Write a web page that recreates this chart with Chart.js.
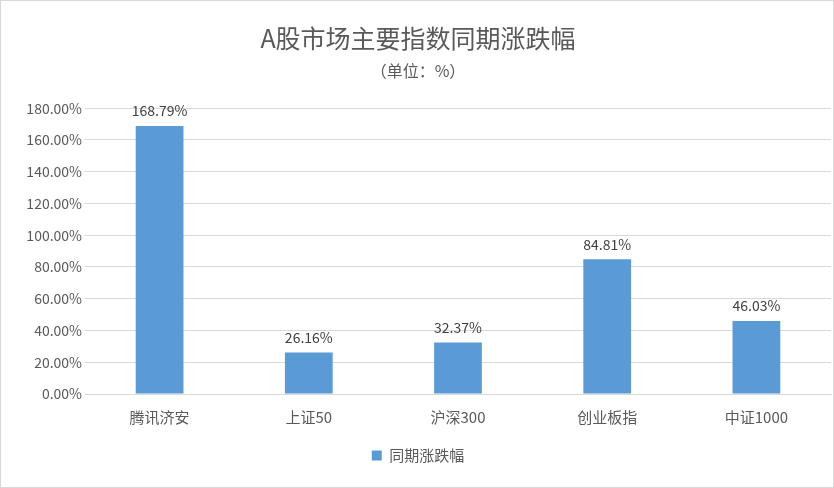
<!DOCTYPE html>
<html><head><meta charset="utf-8">
<script src="https://cdn.jsdelivr.net/npm/chart.js@4"></script>
<style>html,body{margin:0;padding:0;background:#fff}
#w{width:832px;height:486px;border:1px solid #d9d9d9;position:relative}</style>
</head><body><div id="w"><canvas id="c"></canvas></div>
<script>
const categories=["腾讯济安","上证50","沪深300","创业板指","中证1000"];
const values=[168.79,26.16,32.37,84.81,46.03];
const seriesName="同期涨跌幅";
const F="'Noto Sans CJK SC', 'Liberation Sans', sans-serif";
const labelPlugin={id:'lbl',afterDatasetsDraw(ch){const c=ch.ctx;const m=ch.getDatasetMeta(0);
c.save();c.font="14px "+F;c.fillStyle="#404040";c.textAlign="center";c.textBaseline="bottom";
m.data.forEach((b,i)=>c.fillText(values[i].toFixed(2)+"%",b.x,b.y-8));c.restore();}};
new Chart(document.getElementById('c'),{type:'bar',
data:{labels:categories,datasets:[{label:seriesName,data:values,backgroundColor:'#5B9BD5',categoryPercentage:1,barPercentage:0.32}]},
options:{responsive:true,maintainAspectRatio:false,animation:false,
layout:{padding:{left:4,right:2,top:18,bottom:14}},
plugins:{title:{display:true,text:"A股市场主要指数同期涨跌幅",color:'#595959',font:{family:F,size:25,weight:'normal'},padding:{top:4,bottom:8}},
subtitle:{display:true,text:"（单位：%）",color:'#595959',font:{family:F,size:16},padding:{bottom:28}},
legend:{position:'bottom',labels:{boxWidth:10,boxHeight:10,color:'#595959',font:{family:F,size:15},padding:16}},
tooltip:{enabled:false}},
scales:{y:{min:0,max:180,afterFit:s=>{s.width=80;},ticks:{stepSize:20,color:'#595959',font:{family:F,size:14},callback:v=>v.toFixed(2)+"%"},
grid:{color:'#d9d9d9',drawTicks:false},border:{display:false}},
x:{grid:{display:false},border:{color:'#d9d9d9'},ticks:{color:'#595959',font:{family:F,size:15},padding:6}}}},
plugins:[labelPlugin]});
</script></body></html>
